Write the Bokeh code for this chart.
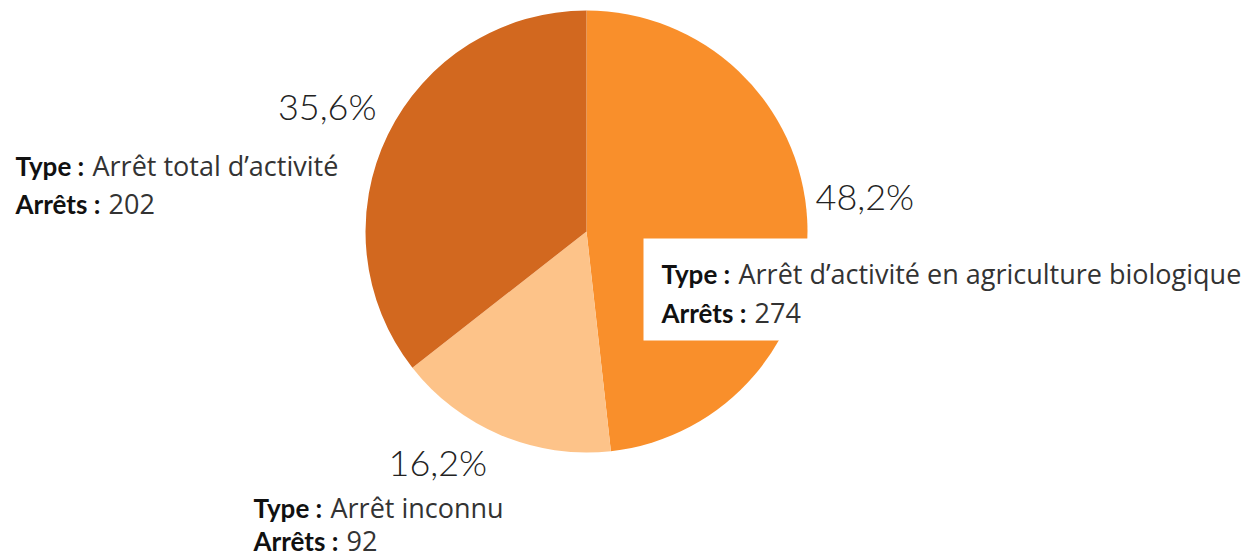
import math
from bokeh.plotting import figure
from bokeh.models import Range1d, ColumnDataSource
from bokeh.core.properties import value
from bokeh.embed import file_html
from bokeh.resources import INLINE

types = ["Arrêt d’activité en agriculture biologique", "Arrêt inconnu", "Arrêt total d’activité"]
arrets = [274, 92, 202]
colors = ["#F98F2B", "#FDC389", "#D2681F"]

W, H = 1247, 559
total = sum(arrets)
pcts = [v / total * 100 for v in arrets]

starts, ends, cum = [], [], 0.0
for v in arrets:
    starts.append(math.pi / 2 - cum / total * 2 * math.pi)
    cum += v
    ends.append(math.pi / 2 - cum / total * 2 * math.pi)

p = figure(width=W, height=H, output_backend="svg", toolbar_location=None,
           x_range=Range1d(0, W), y_range=Range1d(0, H), min_border=0)
p.axis.visible = False
p.grid.visible = False
p.outline_line_color = None
p.background_fill_color = "white"

def Y(iy):
    return H - iy

def X(ix):
    return ix

cx, cy, r = X(586), Y(231), 221
src = ColumnDataSource(dict(start=starts, end=ends, color=colors))
p.wedge(x=cx, y=cy, radius=r, start_angle="start", end_angle="end",
        direction="clock", fill_color="color", line_color=None, source=src)

# white box behind the first label
p.quad(left=X(643), right=W, bottom=Y(340), top=Y(238), fill_color="white", line_color=None)

# layout: (pct x, pct y, pct align, label x, label line1 y, label line2 y)
layout = [
    (815, 195, "left", 661, 273, 312),
    (388, 461, "left", 253, 507, 540),
    (376, 105, "right", 15, 165, 203),
]

def fmt(v):
    return f"{v:.1f}%".replace(".", ",")

pct_font = value("Lato Light, Lato")
bold_font = value("Lato")
lab_font = value("Open Sans")
for i, (px, py, al, lx, l1, l2) in enumerate(layout):
    p.text(x=[X(px)], y=[Y(py)], text=[fmt(pcts[i])], text_font=pct_font,
           text_font_size="36px", text_align=al, text_baseline="middle", text_color="#222222")
    p.text(x=[X(lx)], y=[Y(l1)], text=["Type :"], text_font=bold_font, text_font_style="bold",
           text_font_size="26px", text_align="left", text_baseline="middle", text_color="#111111")
    p.text(x=[X(lx + 77)], y=[Y(l1)], text=[types[i]], text_font=lab_font,
           text_font_size="27px", text_align="left", text_baseline="middle", text_color="#333333")
    p.text(x=[X(lx)], y=[Y(l2)], text=["Arrêts :"], text_font=bold_font, text_font_style="bold",
           text_font_size="26px", text_align="left", text_baseline="middle", text_color="#111111")
    p.text(x=[X(lx + 93)], y=[Y(l2)], text=[str(arrets[i])], text_font=lab_font,
           text_font_size="27px", text_align="left", text_baseline="middle", text_color="#333333")

open("out.html", "w").write(file_html(p, INLINE))
